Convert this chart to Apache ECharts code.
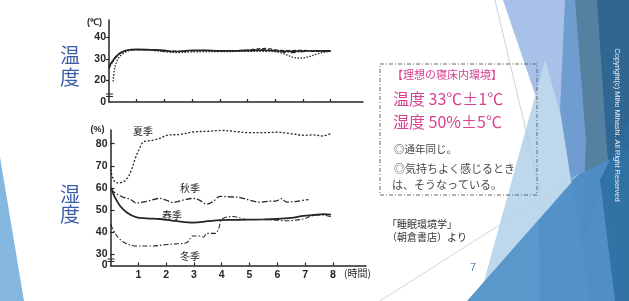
<!DOCTYPE html>
<html><head><meta charset="utf-8">
<script src="https://cdn.jsdelivr.net/npm/echarts@6/dist/echarts.min.js"></script>
<style>html,body{margin:0;padding:0;background:#fff;}#c{width:629px;height:301px;}</style>
</head><body><div id="c"></div>
<script>
// ---- tick labels ----
const hourTicks = [1, 2, 3, 4, 5, 6, 7, 8];
const tempTickValues = [10, 20, 30, 40];
const tempTickLabels = ['0', '20', '30', '40'];
const humTickValues = [25, 30, 40, 50, 60, 70, 80];
const humTickLabels = ['0', '30', '40', '50', '60', '70', '80'];

// ---- temperature (℃) ----
const tempSolidHours = [0, 0.1, 0.25, 0.4, 0.6, 0.8, 1, 1.5, 2, 2.3, 2.6, 3, 3.5, 4, 4.5, 5, 5.5, 6, 6.5, 7, 7.5, 8];
const tempSolid = [26.5, 28.5, 31, 32.8, 33.9, 34.4, 34.5, 34.3, 34, 33.5, 33.6, 34.1, 34, 33.8, 33.8, 33.9, 34.1, 33.8, 33.6, 33.7, 33.8, 33.8];
const tempDashedHours = [0, 0.1, 0.25, 0.4, 0.6, 0.8, 1, 1.5, 2, 2.5, 3, 3.5, 4, 4.5, 5, 5.3, 5.7, 6, 6.5, 7, 7.5, 8];
const tempDashed = [25.5, 28, 30.8, 32.6, 33.8, 34.3, 34.4, 34.2, 33.8, 33.5, 33.9, 33.9, 33.8, 33.9, 34.2, 34.6, 34.9, 34.2, 33.9, 34, 33.6, 33.5];
const tempDottedHours = [0.15, 0.2, 0.3, 0.45, 0.7, 1, 1.5, 2, 2.5, 3, 3.5, 4, 4.5, 5, 5.5, 6, 6.3, 6.6, 6.9, 7.2, 7.5, 7.8, 8];
const tempDotted = [19.5, 25.5, 29.5, 32, 33.8, 34.3, 34.1, 33.4, 33, 33.3, 33.4, 33.4, 33.5, 33.6, 33.6, 33.4, 32.5, 31, 30.4, 31, 32.3, 33.2, 33.5];
const tempDashDotHours = [0, 0.1, 0.25, 0.5, 0.75, 1, 1.5, 2, 2.5, 3, 3.5, 4, 4.5, 5, 5.5, 6, 6.3, 6.6, 7, 7.5, 8];
const tempDashDot = [26, 28.8, 31.2, 33.4, 34.2, 34.4, 34.2, 33.7, 33.5, 33.8, 34, 33.9, 33.9, 34.1, 34.3, 34, 33.2, 33, 33.4, 33.8, 34];

// ---- humidity (%) ----
const summerHours = [0, 0.1, 0.22, 0.4, 0.58, 0.75, 0.88, 1.05, 1.18, 1.5, 1.8, 2.02, 2.5, 3, 3.5, 4, 4.5, 4.95, 5.5, 6, 6.5, 7, 7.3, 7.6, 7.93];
const summerV = [68.5, 64, 62.3, 62.5, 64, 68, 73, 78, 80.8, 81.5, 82.5, 83.8, 84.2, 85.4, 85.6, 86, 85.5, 85, 85, 85.2, 84.5, 83.8, 84, 83.5, 84.5];
const autumnHours = [0, 0.2, 0.46, 0.7, 0.94, 1.3, 1.78, 2.0, 2.26, 2.6, 2.98, 3.2, 3.46, 3.7, 3.94, 4.3, 4.66, 5.0, 5.38, 5.7, 5.98, 6.15, 6.34, 6.7, 7.12];
const autumnV = [59.5, 57.5, 55.8, 55, 53.2, 54, 55.3, 54.5, 53.5, 54.5, 55.3, 54.5, 52.7, 54, 56.2, 56, 55.7, 54.5, 53.6, 54, 54.2, 55.2, 53.6, 54, 54.8];
const springHours = [0.04, 0.15, 0.34, 0.6, 0.94, 1.3, 1.78, 2.4, 2.98, 3.5, 3.94, 4.4, 4.9, 5.5, 5.98, 6.5, 6.94, 7.3, 7.66, 7.93];
const springV = [59.5, 56, 52, 48.8, 46.7, 46.3, 46, 45, 44.4, 45, 45.5, 45.6, 45.7, 45.8, 46, 46.5, 47.4, 47.8, 48.2, 48];
const winterHours = [0, 0.1, 0.28, 0.55, 0.94, 1.5, 2.02, 2.4, 2.74, 2.85, 2.95, 3.2, 3.35, 3.46, 3.76, 3.9, 4.0, 4.4, 4.9, 5.4, 5.9, 6.3, 6.94, 7.3, 7.6, 7.93];
const winterV = [43.6, 41, 37.6, 35, 33.8, 33.8, 34.5, 34.8, 35.3, 37, 38.3, 38.3, 37.9, 39.5, 39.5, 42, 45.9, 47.1, 45.8, 45.8, 45.6, 45.2, 46, 47.6, 47.8, 47];

const seasonNames = ['夏季', '秋季', '春季', '冬季'];

function pairs(h, v) { return h.map((x, i) => [x, v[i]]); }

const INK = '#262626';
const JP = '"Noto Sans CJK JP", sans-serif';
const NUM = '"Liberation Sans", Arial, sans-serif';

function line(name, xi, h, v, dash, width, mp) {
  const s = {
    name, type: 'line', xAxisIndex: xi, yAxisIndex: xi,
    data: pairs(h, v), symbol: 'none', smooth: 0.35, z: 5,
    lineStyle: { color: INK, width: width, type: dash }
  };
  if (mp) {
    s.markPoint = {
      symbol: 'circle', symbolSize: 0, silent: true,
      data: [{ coord: mp, value: name }],
      label: { show: true, position: 'inside', formatter: name, color: INK, fontSize: 10, fontFamily: JP }
    };
  }
  return s;
}

const xAxisBase = {
  type: 'value', min: 0, splitLine: { show: false },
  axisLine: { lineStyle: { color: INK, width: 1.5 } },
  axisTick: { inside: true, length: 3, customValues: hourTicks, lineStyle: { color: INK, width: 1.2 } }
};

const option = {
  backgroundColor: '#ffffff',
  animation: false,
  grid: [
    { left: 109, top: 20, width: 254, height: 82 },
    { left: 110.5, top: 130, width: 255.5, height: 135.5 }
  ],
  xAxis: [
    Object.assign({}, xAxisBase, { gridIndex: 0, max: 254 / 27.7, axisLabel: { show: false } }),
    Object.assign({}, xAxisBase, {
      gridIndex: 1, max: 255.5 / 27.8,
      axisLabel: { customValues: hourTicks, margin: 4, color: INK, fontSize: 10.5, fontWeight: 'bold', fontFamily: NUM },
      name: '(時間)', nameLocation: 'end', nameGap: -22,
      nameTextStyle: { color: INK, fontSize: 10, fontFamily: JP, align: 'left', verticalAlign: 'top', padding: [3, 0, 0, 0] }
    })
  ],
  yAxis: [
    {
      gridIndex: 0, type: 'value', min: 10, max: 10 + 82 / 2.15,
      splitLine: { show: false },
      axisLine: { lineStyle: { color: INK, width: 1.5 } },
      axisTick: { customValues: [20, 30, 40], length: 3, lineStyle: { color: INK, width: 1.2 } },
      axisLabel: { customValues: tempTickValues, margin: 3, color: INK, fontSize: 10.5, fontWeight: 'bold', fontFamily: NUM,
        formatter: v => tempTickLabels[tempTickValues.indexOf(v)] },
      name: '(℃)', nameLocation: 'end', nameGap: -3,
      nameTextStyle: { color: INK, fontSize: 9, fontFamily: NUM, fontWeight: 'bold', align: 'right', verticalAlign: 'middle', padding: [0, 7, 0, 0] }
    },
    {
      gridIndex: 1, type: 'value', min: 25, max: 25 + 135.5 / 2.214,
      splitLine: { show: false },
      axisLine: { lineStyle: { color: INK, width: 1.5 } },
      axisTick: { inside: true, customValues: [30, 40, 50, 60, 70, 80], length: 4, lineStyle: { color: INK, width: 1.2 } },
      axisLabel: { customValues: humTickValues, margin: 3, color: INK, fontSize: 10.5, fontWeight: 'bold', fontFamily: NUM,
        formatter: v => humTickLabels[humTickValues.indexOf(v)] },
      name: '(%)', nameLocation: 'end', nameGap: 0,
      nameTextStyle: { color: INK, fontSize: 9, fontFamily: NUM, fontWeight: 'bold', align: 'right', verticalAlign: 'middle', padding: [0, 6, 0, 0] }
    }
  ],
  series: [
    line('t1', 0, tempSolidHours, tempSolid, 'solid', 1.6),
    line('t2', 0, tempDashedHours, tempDashed, [4, 2], 1.3),
    line('t3', 0, tempDottedHours, tempDotted, [1.5, 1.5], 1.3),
    line('t4', 0, tempDashDotHours, tempDashDot, [5, 2, 1, 2], 1.2),
    line(seasonNames[0], 1, summerHours, summerV, [2, 1.8], 1.3, [1.17, 85.7]),
    line(seasonNames[1], 1, autumnHours, autumnV, [6, 2, 1.5, 2], 1.3, [2.86, 59.8]),
    line(seasonNames[2], 1, springHours, springV, 'solid', 1.8, [2.21, 47.6]),
    line(seasonNames[3], 1, winterHours, winterV, [5, 2, 1.5, 2], 1.1, [2.86, 29.3])
  ],
  graphic: [
    // slide decoration (background shapes)
    { type: 'polygon', z: -10, shape: { points: [[0, 157], [0, 301], [24, 301]] }, style: { fill: '#86b7df' } },
    { type: 'polygon', z: -10, shape: { points: [[503, 0], [629, 0], [629, 301], [540, 301], [537, 100]] }, style: { fill: '#a8c1e8' } },
    { type: 'polygon', z: -9, shape: { points: [[545, 60], [578, 175], [483, 285]] }, style: { fill: '#bdd7ec' } },
    { type: 'polygon', z: -9, shape: { points: [[565, 0], [629, 0], [629, 301], [590, 301], [560, 110]] }, style: { fill: '#6f9dcf' } },
    { type: 'polygon', z: -8, shape: { points: [[575, 0], [597, 0], [613, 150], [582, 245], [586, 140]] }, style: { fill: '#56809f' } },
    { type: 'polygon', z: -8, shape: { points: [[597, 0], [629, 0], [629, 301], [622, 301], [607, 150]] }, style: { fill: '#2f6692' } },
    { type: 'polygon', z: -7, shape: { points: [[467, 301], [578, 175], [629, 150], [629, 301]] }, style: { fill: '#4c8ec6', opacity: 0.92 } },
    { type: 'polygon', z: -7, shape: { points: [[600, 180], [629, 120], [629, 301], [615, 301]] }, style: { fill: '#2d6d9f', opacity: 0.85 } },
    { type: 'line', z: -6, shape: { x1: 495, y1: 0, x2: 540, y2: 190 }, style: { stroke: '#a9cbe0', lineWidth: 0.8 } },
    { type: 'line', z: -6, shape: { x1: 380, y1: 301, x2: 578, y2: 175 }, style: { stroke: '#b5d0e2', lineWidth: 0.8 } },
    { type: 'text', z: 1, x: 617, y: 125, rotation: -Math.PI / 2,
      style: { text: 'Copyright(c) Miho Mihashi. All Right Reserved', fill: '#e6edf4', fontSize: 7.5, fontFamily: NUM, align: 'center', verticalAlign: 'middle' } },
    { type: 'text', z: 1, x: 473, y: 268, style: { text: '7', fill: '#5a86c4', fontSize: 11, fontFamily: NUM, align: 'center', verticalAlign: 'middle' } },

    // left big labels
    { type: 'text', z: 1, x: 60, y: 55, style: { text: '温', fill: '#3d5ea8', fontSize: 20, fontFamily: JP, verticalAlign: 'middle' } },
    { type: 'text', z: 1, x: 60, y: 77, style: { text: '度', fill: '#3d5ea8', fontSize: 20, fontFamily: JP, verticalAlign: 'middle' } },
    { type: 'text', z: 1, x: 60, y: 194, style: { text: '湿', fill: '#3d5ea8', fontSize: 20, fontFamily: JP, verticalAlign: 'middle' } },
    { type: 'text', z: 1, x: 60, y: 214, style: { text: '度', fill: '#3d5ea8', fontSize: 20, fontFamily: JP, verticalAlign: 'middle' } },

    // axis break marks
    { type: 'line', z: 6, shape: { x1: 106, y1: 94, x2: 113, y2: 94 }, style: { stroke: INK, lineWidth: 1 } },
    { type: 'line', z: 6, shape: { x1: 106, y1: 96.5, x2: 113, y2: 96.5 }, style: { stroke: INK, lineWidth: 1 } },
    { type: 'line', z: 6, shape: { x1: 107.5, y1: 259, x2: 114.5, y2: 259 }, style: { stroke: INK, lineWidth: 1 } },
    { type: 'line', z: 6, shape: { x1: 107.5, y1: 261.5, x2: 114.5, y2: 261.5 }, style: { stroke: INK, lineWidth: 1 } },

    // info box
    { type: 'rect', z: 1, shape: { x: 380, y: 64, width: 157, height: 131 },
      style: { fill: 'rgba(255,255,255,0)', stroke: '#666', lineWidth: 1, lineDash: [4, 2, 1, 2] } },
    { type: 'text', z: 2, x: 392, y: 75, style: { text: '【理想の寝床内環境】', fill: '#d8418f', fontSize: 11, fontFamily: JP, verticalAlign: 'middle' } },
    { type: 'text', z: 2, x: 393, y: 99, style: { text: '温度 33℃±1℃', fill: '#d8418f', fontSize: 16, fontFamily: JP, verticalAlign: 'middle' } },
    { type: 'text', z: 2, x: 393, y: 122, style: { text: '湿度 50%±5℃', fill: '#d8418f', fontSize: 16, fontFamily: JP, verticalAlign: 'middle' } },
    { type: 'text', z: 2, x: 394, y: 149, style: { text: '◎通年同じ。', fill: '#474747', fontSize: 10.5, fontFamily: JP, verticalAlign: 'middle' } },
    { type: 'text', z: 2, x: 394, y: 169, style: { text: '◎気持ちよく感じるとき', fill: '#474747', fontSize: 11, fontFamily: JP, verticalAlign: 'middle' } },
    { type: 'text', z: 2, x: 392, y: 185, style: { text: 'は、そうなっている。', fill: '#474747', fontSize: 11, fontFamily: JP, verticalAlign: 'middle' } },

    // citation
    { type: 'text', z: 2, x: 387, y: 224, style: { text: '「睡眠環境学」', fill: '#333', fontSize: 10, fontFamily: JP, verticalAlign: 'middle' } },
    { type: 'text', z: 2, x: 387, y: 237, style: { text: '（朝倉書店）より', fill: '#333', fontSize: 10, fontFamily: JP, verticalAlign: 'middle' } }
  ]
};

const chart = echarts.init(document.getElementById('c'), null, { renderer: 'canvas' });
chart.setOption(option);
</script>
</body></html>
